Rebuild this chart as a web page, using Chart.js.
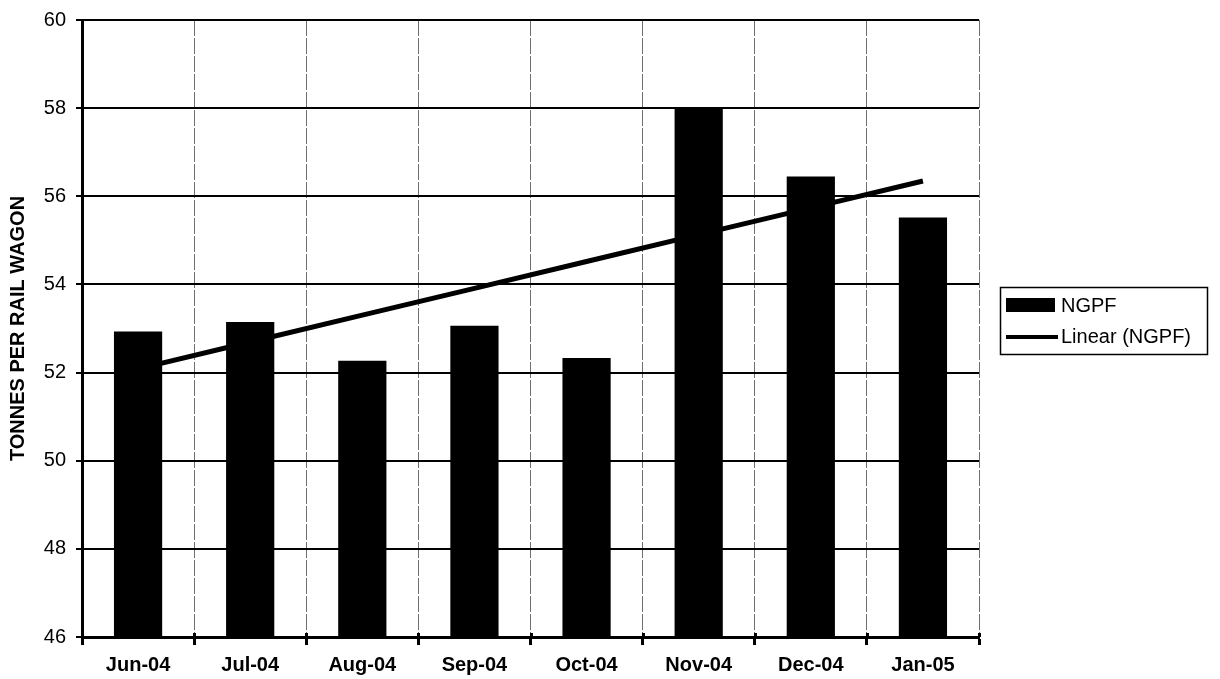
<!DOCTYPE html>
<html>
<head>
<meta charset="utf-8">
<title>NGPF tonnes per rail wagon</title>
<script src="https://cdn.jsdelivr.net/npm/chart.js@4.4.1/dist/chart.umd.min.js"></script>
<style>
  html, body { margin: 0; padding: 0; background: #fff; }
  canvas { display: block; }
</style>
</head>
<body>
<canvas id="wagonChart" width="1220" height="679"></canvas>
<script>
// Monthly average load per wagon
const months = ["Jun-04", "Jul-04", "Aug-04", "Sep-04", "Oct-04", "Nov-04", "Dec-04", "Jan-05"];
const ngpf = [52.93, 53.15, 52.27, 53.06, 52.33, 58.02, 56.45, 55.52];
const yTicks = [46, 48, 50, 52, 54, 56, 58, 60];

// Least-squares straight line through the monthly values
function linearTrend(values) {
  const n = values.length;
  const meanX = (n - 1) / 2;
  const meanY = values.reduce((a, b) => a + b, 0) / n;
  let num = 0, den = 0;
  values.forEach((y, x) => {
    num += (x - meanX) * (y - meanY);
    den += (x - meanX) * (x - meanX);
  });
  const slope = num / den;
  return values.map((_, x) => meanY + slope * (x - meanX));
}

// Category tick marks poke a little above the x axis too
const innerTicks = {
  id: "innerTicks",
  afterDraw(chart) {
    const ctx = chart.ctx;
    const area = chart.chartArea;
    const step = (area.right - area.left) / chart.data.labels.length;
    ctx.save();
    ctx.strokeStyle = "#000";
    ctx.lineWidth = 3;
    ctx.beginPath();
    for (let i = 0; i <= chart.data.labels.length; i++) {
      const x = Math.round(area.left + i * step) + 0.5;
      ctx.moveTo(x, area.bottom - 4);
      ctx.lineTo(x, area.bottom);
    }
    ctx.stroke();
    ctx.restore();
  }
};

// Boxed legend to the right of the plot
const legendBox = {
  id: "legendBox",
  afterDraw(chart) {
    const ctx = chart.ctx;
    const area = chart.chartArea;
    const x = area.right + 21;
    const y = 287;
    const [lineSet, barSet] = chart.data.datasets;
    ctx.save();
    ctx.strokeStyle = "#000";
    ctx.lineWidth = 1.5;
    ctx.strokeRect(x + 0.5, y + 0.5, 207, 67);

    ctx.fillStyle = "#000";
    ctx.fillRect(x + 6, y + 11, 49, 14);

    ctx.lineWidth = 4;
    ctx.beginPath();
    ctx.moveTo(x + 6, y + 50);
    ctx.lineTo(x + 58, y + 50);
    ctx.stroke();

    ctx.font = "20px Arial";
    ctx.textBaseline = "middle";
    ctx.fillText(barSet.label, x + 61, y + 19);
    ctx.fillText(lineSet.label, x + 61, y + 50);
    ctx.restore();
  }
};

const ctx = document.getElementById("wagonChart").getContext("2d");
const wagonChart = new Chart(ctx, {
  type: "bar",
  data: {
    labels: months,
    datasets: [
      {
        type: "line",
        label: "Linear (NGPF)",
        data: linearTrend(ngpf),
        borderColor: "#000",
        borderWidth: 5,
        pointRadius: 0,
        fill: false,
        order: 1
      },
      {
        type: "bar",
        label: "NGPF",
        data: ngpf,
        backgroundColor: "#000",
        borderWidth: 0,
        categoryPercentage: 1,
        barPercentage: 0.43,
        order: 2
      }
    ]
  },
  options: {
    responsive: false,
    animation: false,
    layout: { padding: { top: 20, right: 241, bottom: 0, left: 0 } },
    plugins: {
      legend: { display: false },
      tooltip: { enabled: false }
    },
    scales: {
      x: {
        grid: {
          offset: true,
          color: "#6e6e6e",
          lineWidth: 1,
          tickColor: "#000",
          tickWidth: 3,
          tickLength: 8
        },
        border: { color: "#000", width: 3, dash: [16, 2] },
        ticks: {
          color: "#000",
          font: { family: "Arial", size: 20, weight: "bold" },
          maxRotation: 0,
          autoSkip: false,
          padding: 8
        },
        afterFit(scale) { scale.height = 42; }
      },
      y: {
        min: yTicks[0],
        max: yTicks[yTicks.length - 1],
        ticks: {
          stepSize: yTicks[1] - yTicks[0],
          color: "#000",
          font: { family: "Arial", size: 20 },
          padding: 10
        },
        grid: {
          color: "#000",
          lineWidth: 2,
          tickLength: 6,
          tickWidth: 2
        },
        border: { color: "#000", width: 3 },
        title: {
          display: true,
          text: "TONNES PER RAIL WAGON",
          color: "#000",
          font: { family: "Arial", size: 20, weight: "bold" },
          padding: { top: 6, bottom: 0 }
        },
        afterFit(scale) {
          scale.width = 82;
          scale.paddingTop = 0;
          scale.paddingBottom = 0;
        }
      }
    }
  },
  plugins: [innerTicks, legendBox]
});
</script>
</body>
</html>
